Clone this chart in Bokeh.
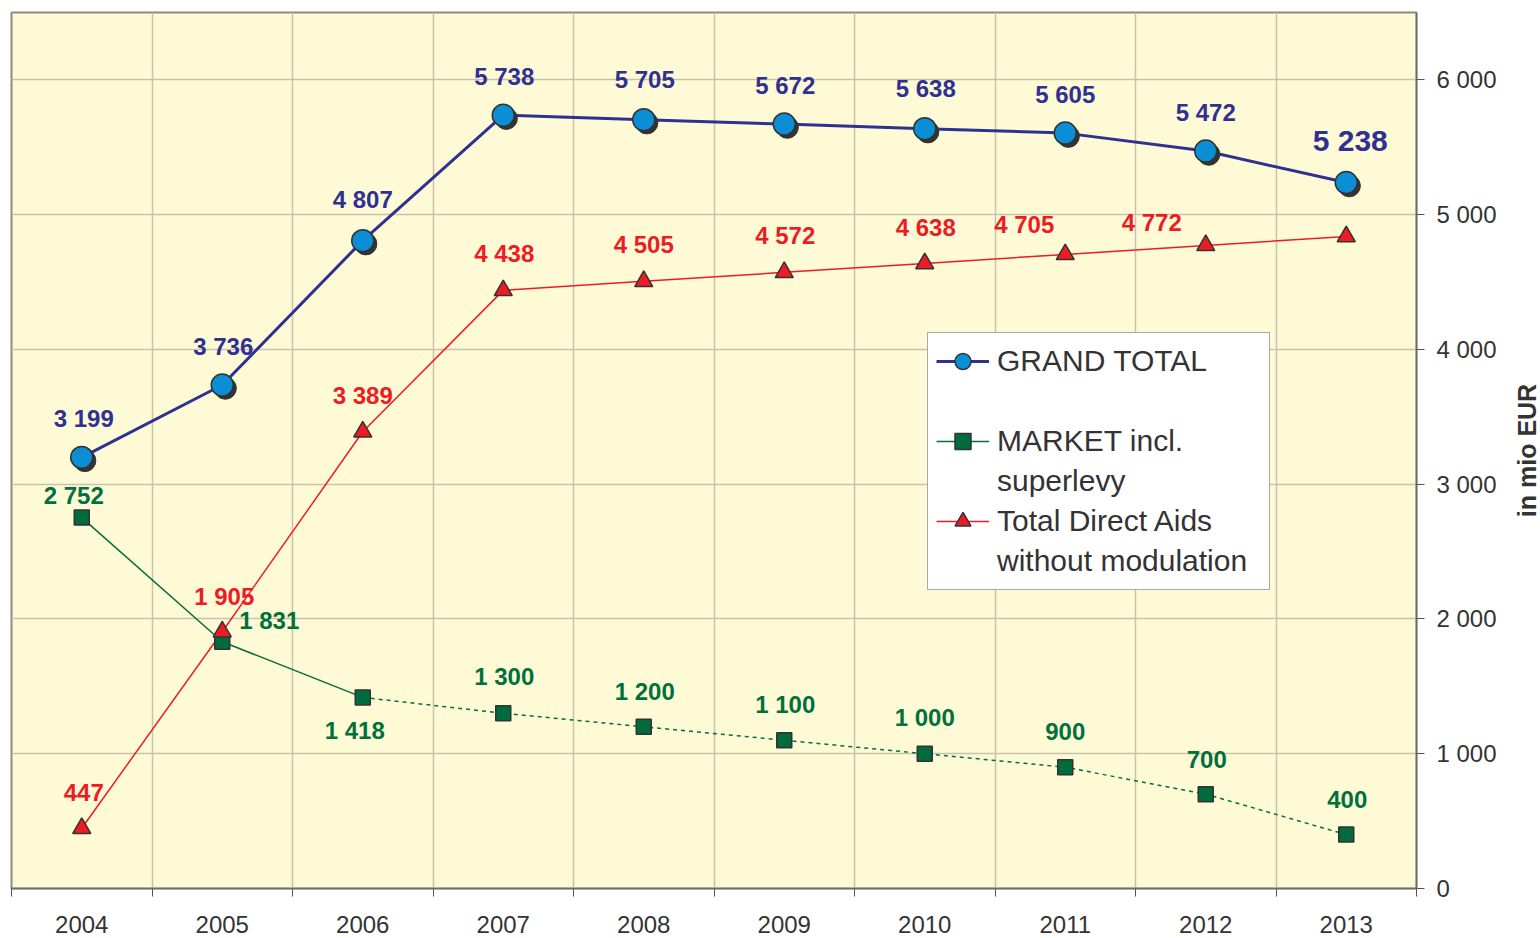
import math
import numpy as np
from bokeh.plotting import figure
from bokeh.models import (ColumnDataSource, Range1d, FixedTicker, CustomJSTickFormatter,
                          Legend, LegendItem, Label)
from bokeh.transform import dodge
from bokeh.core.properties import value, field
from bokeh.embed import file_html
from bokeh.resources import INLINE

# ---------------- data ----------------
years = ["2004", "2005", "2006", "2007", "2008", "2009", "2010", "2011", "2012", "2013"]
grand_total = [3199, 3736, 4807, 5738, 5705, 5672, 5638, 5605, 5472, 5238]
market = [2752, 1831, 1418, 1300, 1200, 1100, 1000, 900, 700, 400]
direct_aids = [447, 1905, 3389, 4438, 4505, 4572, 4638, 4705, 4772, 4838]
direct_aids_labelled = 9          # the 2013 value carries no label
market_solid_until = 3            # 2004-2006 solid, later dashed
y_ticks = [0, 1000, 2000, 3000, 4000, 5000, 6000]
y_title = "in mio EUR"

# ---------------- label placement (screen px) ----------------
blue_dx = [2, 1, 0, 1, 1, 1, 1, 0, 0, 4]
blue_dy = [-39, -39, -41, -39, -40, -39, -40, -39, -39, -42]
blue_fs = ["24px"] * 9 + ["30px"]
red_dx = [2, 2, 0, 1, 0, 1, 1, -41, -54]
red_dy = [-36, -35, -36, -37, -37, -37, -36, -30, -23]
green_dx = [-8, 47, -8, 1, 1, 1, 0, 0, 1, 1]
green_dy = [-22, -21, 33, -37, -35, -36, -36, -36, -35, -35]

BLUE_LINE = "#2E3192"
BLUE_FILL = "#0A8FD6"
GREEN = "#00703C"
GREEN_FILL = "#006B3C"
RED = "#ED1C24"
DARK = "#333333"
FONT = "Liberation Sans"

W, H = 1540, 938
BORDER_L, BORDER_T, BORDER_R, BORDER_B = 11, 12, 124, 50


def fmt(v):
    return f"{v:,}".replace(",", " ")


xs = np.arange(len(years)) + 0.5

src = ColumnDataSource(dict(x=xs, grand=grand_total, market=market, aids=direct_aids))
src_m_solid = ColumnDataSource(dict(x=xs[:market_solid_until], y=market[:market_solid_until]))
src_m_dash = ColumnDataSource(dict(x=xs[market_solid_until - 1:], y=market[market_solid_until - 1:]))

lab_blue = ColumnDataSource(dict(x=xs, y=grand_total, t=[fmt(v) for v in grand_total],
                                 dx=blue_dx, dy=blue_dy, fs=blue_fs))
lab_red = ColumnDataSource(dict(x=xs[:direct_aids_labelled], y=direct_aids[:direct_aids_labelled],
                                t=[fmt(v) for v in direct_aids[:direct_aids_labelled]],
                                dx=red_dx, dy=red_dy))
lab_green = ColumnDataSource(dict(x=xs, y=market, t=[fmt(v) for v in market],
                                  dx=green_dx, dy=green_dy))

p = figure(width=W, height=H,
           x_range=Range1d(0, len(years)), y_range=Range1d(0, 6500),
           y_axis_location="right",
           output_backend="svg", toolbar_location=None,
           min_border_left=BORDER_L, min_border_top=BORDER_T,
           min_border_right=BORDER_R, min_border_bottom=BORDER_B)

p.background_fill_color = "#FFFAD6"
p.border_fill_color = "white"
p.outline_line_color = "#8F8781"
p.outline_line_width = 2

# grids
p.ygrid.ticker = FixedTicker(ticks=y_ticks[1:])
p.xgrid.ticker = FixedTicker(ticks=list(range(1, len(years))))
for g in (p.xgrid, p.ygrid):
    g.grid_line_color = "#C9C1B0"
    g.grid_line_width = 1.5

# x axis: labels at centres, tick marks at category boundaries
xa = p.xaxis[0]
xa.ticker = FixedTicker(ticks=list(xs), minor_ticks=list(range(0, len(years) + 1)))
xa.formatter = CustomJSTickFormatter(args=dict(years=years),
                                     code="return years[Math.floor(tick)] || '';")
xa.major_tick_out = 0
xa.major_tick_in = 0
xa.minor_tick_out = 8
xa.minor_tick_in = 0
xa.minor_tick_line_color = "#555555"
xa.axis_line_color = "#6B6B6B"
xa.axis_line_width = 1.5
xa.major_label_standoff = 19
xa.major_label_text_font = FONT
xa.major_label_text_font_size = "24px"
xa.major_label_text_color = DARK

# y axis on the right
ya = p.yaxis[0]
ya.ticker = FixedTicker(ticks=y_ticks)
ya.formatter = CustomJSTickFormatter(code="""
    if (tick >= 1000) {
        const t = Math.floor(tick / 1000);
        const r = String(Math.round(tick % 1000)).padStart(3, '0');
        return t + ' ' + r;
    }
    return String(tick);
""")
ya.minor_tick_out = 0
ya.minor_tick_in = 0
ya.major_tick_out = 8
ya.major_tick_in = 0
ya.major_tick_line_color = "#555555"
ya.axis_line_color = "#6B6B6B"
ya.axis_line_width = 1.5
ya.major_label_standoff = 12
ya.major_label_text_font = FONT
ya.major_label_text_font_size = "24px"
ya.major_label_text_color = DARK

# axis title placed in the right margin, reading bottom to top (canvas pixels)
p.add_layout(Label(x=W - 14, y=(BORDER_T + H - BORDER_B) / 2,
                   x_units="canvas", y_units="canvas",
                   text=y_title, angle=math.pi / 2, text_align="center",
                   text_baseline="middle", text_font=FONT, text_font_style="bold",
                   text_font_size="25px", text_color=DARK), "right")

# ---------------- series ----------------
red_line = p.line(x="x", y="aids", source=src, line_color=RED, line_width=1.5)
green_solid = p.line(x="x", y="y", source=src_m_solid, line_color=GREEN, line_width=1.5)
green_dash = p.line(x="x", y="y", source=src_m_dash, line_color=GREEN, line_width=1.5,
                    line_dash="4 4")
blue_line = p.line(x="x", y="grand", source=src, line_color=BLUE_LINE, line_width=3)

p.scatter(x=dodge("x", 0.022), y=dodge("grand", -24), source=src, marker="circle", size=22,
          fill_color=DARK, line_color=DARK)
blue_pts = p.scatter(x="x", y="grand", source=src, marker="circle", size=22,
                     fill_color=BLUE_FILL, line_color=DARK, line_width=1.5)
green_pts = p.scatter(x="x", y="market", source=src, marker="square", size=15,
                      fill_color=GREEN_FILL, line_color=DARK, line_width=1.5)
red_pts = p.scatter(x="x", y="aids", source=src, marker="triangle", size=18,
                    fill_color=RED, line_color=DARK, line_width=1.5)

# ---------------- value labels ----------------
p.text(x="x", y="y", text="t", source=lab_blue, x_offset="dx", y_offset="dy",
       text_font=value(FONT), text_font_style="bold", text_font_size=field("fs"),
       text_color=BLUE_LINE, text_align="center", text_baseline="middle")
p.text(x="x", y="y", text="t", source=lab_red, x_offset="dx", y_offset="dy",
       text_font=value(FONT), text_font_style="bold", text_font_size="24px",
       text_color=RED, text_align="center", text_baseline="middle")
p.text(x="x", y="y", text="t", source=lab_green, x_offset="dx", y_offset="dy",
       text_font=value(FONT), text_font_style="bold", text_font_size="24px",
       text_color=GREEN, text_align="center", text_baseline="middle")

# ---------------- legend ----------------
legend = Legend(items=[
    LegendItem(label="GRAND TOTAL", renderers=[blue_line, blue_pts]),
    LegendItem(label="", renderers=[]),
    LegendItem(label="MARKET incl.", renderers=[green_solid, green_pts]),
    LegendItem(label="superlevy", renderers=[]),
    LegendItem(label="Total Direct Aids", renderers=[red_line, red_pts]),
    LegendItem(label="without modulation", renderers=[]),
], location=(916, 298))
legend.margin = 0
legend.padding = 8
legend.spacing = 0
legend.glyph_width = 53
legend.glyph_height = 40
legend.label_height = 40
legend.label_width = 264
legend.label_standoff = 8
legend.label_text_font = FONT
legend.label_text_font_size = "30px"
legend.label_text_color = DARK
legend.border_line_color = "#555555"
legend.border_line_width = 1
legend.background_fill_color = "white"
legend.background_fill_alpha = 1
p.add_layout(legend, "center")

open("out.html", "w").write(file_html(p, INLINE))
